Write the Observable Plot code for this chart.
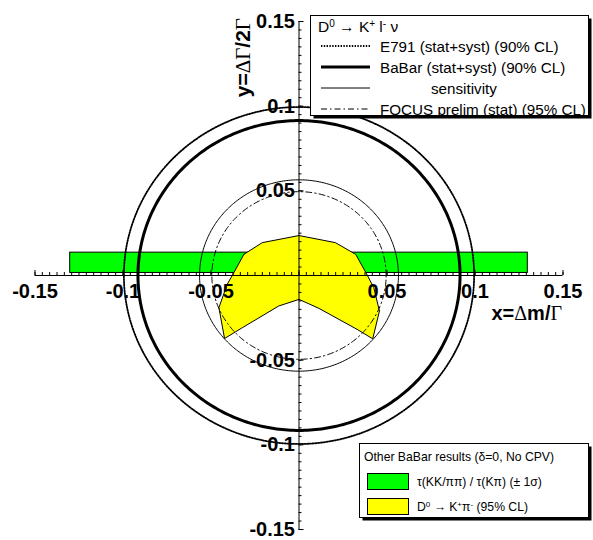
<!DOCTYPE html>
<html><head><meta charset="utf-8">
<script src="https://cdn.jsdelivr.net/npm/d3@7"></script>
<script src="https://cdn.jsdelivr.net/npm/@observablehq/plot@0.6"></script>
<style>
body{margin:0;background:#fff}
#chart{width:593px;height:540px}
</style>
</head><body><div id="chart"></div>
<script>
// ---- data ----
const xTickLabels = [-0.15, -0.1, -0.05, 0.05, 0.1, 0.15];
const yTickLabels = [-0.15, -0.1, -0.05, 0.05, 0.1, 0.15];
const circleNames = ["E791 (stat+syst) (90% CL)", "BaBar (stat+syst) (90% CL)", "sensitivity", "FOCUS prelim (stat) (95% CL)"];
const circleRadii = [0.0995, 0.0915, 0.0565, 0.0495];
const bandX = [-0.13, 0.13];      // tau(KK/pipi)/tau(Kpi) band, x extent
const bandY = [0.0015, 0.0135];   // y extent (±1 sigma)
const contourX = [-0.0313, -0.0209, 0, 0.0207, 0.0322, 0.0380, 0.0425, 0.0457, 0.0419, 0.0330, 0.0113, 0, -0.0115, -0.0323, -0.0423, -0.0455, -0.0408, -0.0370, -0.0313];
const contourY = [0.0125, 0.0194, 0.0236, 0.0194, 0.0125, 0.0017, -0.0072, -0.0210, -0.0374, -0.0318, -0.0194, -0.0141, -0.0180, -0.0309, -0.0372, -0.0190, -0.0052, 0.0017, 0.0125];

// ---- derived ----
const styles = [
  {strokeWidth: 1.8, strokeDasharray: "1.4,1.4"},
  {strokeWidth: 3},
  {strokeWidth: 1},
  {strokeWidth: 1, strokeDasharray: "6,3,1.5,3"}
];
const circles = circleRadii.map((r, k) =>
  d3.range(0, 361, 1).map(a => ({k, x: r * Math.cos(a * Math.PI / 180), y: r * Math.sin(a * Math.PI / 180)})));
const contour = contourX.map((x, i) => ({x, y: contourY[i]}));
const band = [{x1: bandX[0], x2: bandX[1], y1: bandY[0], y2: bandY[1]}];
const xMinor = d3.range(-36, 37).map(i => +(i * 0.05 / 12).toFixed(6));
const yMinor = d3.range(-30, 31).map(i => +(i * 0.005).toFixed(6));
const xMajor = [-0.15, -0.1, -0.05, 0, 0.05, 0.1, 0.15];
const yMajor = [-0.15, -0.1, -0.05, 0, 0.05, 0.1, 0.15];

const bold = {fontWeight: "bold", fontSize: 20, fontFamily: "Liberation Sans, Arial, sans-serif"};

const svg = Plot.plot({
  width: 593, height: 540,
  marginLeft: 34.5, marginRight: 30.5, marginTop: 21, marginBottom: 11,
  x: {domain: [-0.15, 0.15], axis: null},
  y: {domain: [-0.15, 0.15], axis: null},
  marks: [
    Plot.rect(band, {x1: "x1", x2: "x2", y1: "y1", y2: "y2", fill: "#00ff00", stroke: "black", strokeWidth: 1}),
    Plot.line(contour, {x: "x", y: "y", fill: "#ffff00", stroke: "black", strokeWidth: 1}),
    ...circles.map((pts, k) => Plot.line(pts, {x: "x", y: "y", stroke: "black", ...styles[k]})),
    // axes
    Plot.ruleY([0], {x1: -0.15, x2: 0.15, stroke: "black", strokeWidth: 1}),
    Plot.ruleX([0], {y1: -0.15, y2: 0.15, stroke: "black", strokeWidth: 1}),
    Plot.ruleX(xMinor, {x: d => d, y1: 0, y2: 0, insetTop: -3, stroke: "black"}),
    Plot.ruleX(xMajor, {x: d => d, y1: 0, y2: 0, insetTop: -5, stroke: "black"}),
    Plot.ruleY(yMinor, {y: d => d, x1: 0, x2: 0, insetRight: -3, stroke: "black"}),
    Plot.ruleY(yMajor, {y: d => d, x1: 0, x2: 0, insetRight: -5, stroke: "black"}),
    Plot.text(xTickLabels, {x: d => d, y: 0, text: d => String(d), dy: 16, ...bold, fill: "black"}),
    Plot.text(yTickLabels, {x: 0, y: d => d, text: d => String(d), dx: -4, textAnchor: "end", ...bold, fill: "black"})
  ]
});
document.getElementById("chart").appendChild(svg);

// ---- titles and legends ----
const s = d3.select(svg);
const font = "Liberation Sans, Arial, Helvetica, sans-serif";
const serif = "Liberation Serif, Times New Roman, serif";
function txt(x, y, size, anchor) {
  return s.append("text").attr("x", x).attr("y", y).attr("font-family", font)
    .attr("font-size", size).attr("text-anchor", anchor || "start").attr("fill", "black");
}

// x title
const xt = txt(562, 320, 20, "end").attr("font-weight", "bold");
xt.append("tspan").text("x=");
xt.append("tspan").attr("font-family", serif).attr("font-weight", "normal").text("Δ");
xt.append("tspan").text("m/");
xt.append("tspan").attr("font-family", serif).attr("font-weight", "normal").text("Γ");

// y title
const yt = s.append("text").attr("transform", "translate(250,18) rotate(-90)").attr("text-anchor", "end")
  .attr("font-family", font).attr("font-size", 21).attr("font-weight", "bold");
yt.append("tspan").text("y=");
yt.append("tspan").attr("font-family", serif).attr("font-weight", "normal").text("ΔΓ");
yt.append("tspan").text("/2");
yt.append("tspan").attr("font-family", serif).attr("font-weight", "normal").text("Γ");

function box(x, y, w, h) {
  s.append("rect").attr("x", x + 3).attr("y", y + 3).attr("width", w).attr("height", h).attr("fill", "black");
  s.append("rect").attr("x", x).attr("y", y).attr("width", w).attr("height", h).attr("fill", "white").attr("stroke", "black").attr("stroke-width", 1);
}

// legend 1
box(310.5, 15.5, 278, 100);
const h = txt(318, 32, 15.5);
h.append("tspan").text("D");
h.append("tspan").attr("baseline-shift", "super").attr("font-size", 10).text("0");
h.append("tspan").text(" → K");
h.append("tspan").attr("baseline-shift", "super").attr("font-size", 10).text("+");
h.append("tspan").text(" l");
h.append("tspan").attr("baseline-shift", "super").attr("font-size", 10).text("-");
h.append("tspan").text(" ν");
const ly = [46, 67, 88, 109];
const lx = [380, 380, 431, 380];
circleNames.forEach((name, k) => {
  const st = styles[k];
  s.append("line").attr("x1", 321).attr("x2", 370).attr("y1", ly[k]).attr("y2", ly[k])
    .attr("stroke", "black").attr("stroke-width", st.strokeWidth).attr("stroke-dasharray", st.strokeDasharray || null);
  txt(lx[k], ly[k] + 5.5, 15.2).text(name);
});

// legend 2
box(359.5, 443.5, 229, 74);
txt(364, 461, 12.2).text("Other BaBar results (δ=0, No CPV)");
s.append("rect").attr("x", 367.5).attr("y", 473.5).attr("width", 41).attr("height", 16).attr("fill", "#00ff00").attr("stroke", "black");
s.append("rect").attr("x", 367.5).attr("y", 498.5).attr("width", 41).attr("height", 16).attr("fill", "#ffff00").attr("stroke", "black");
txt(417, 486, 12.2).text("τ(KK/ππ) / τ(Kπ) (± 1σ)");
const t2 = txt(417, 511, 12.2);
t2.append("tspan").text("D");
t2.append("tspan").attr("baseline-shift", "super").attr("font-size", 8).text("0");
t2.append("tspan").text(" → K");
t2.append("tspan").attr("baseline-shift", "super").attr("font-size", 8).text("+");
t2.append("tspan").text("π");
t2.append("tspan").attr("baseline-shift", "super").attr("font-size", 8).text("-");
t2.append("tspan").text(" (95% CL)");
</script>
</body></html>
